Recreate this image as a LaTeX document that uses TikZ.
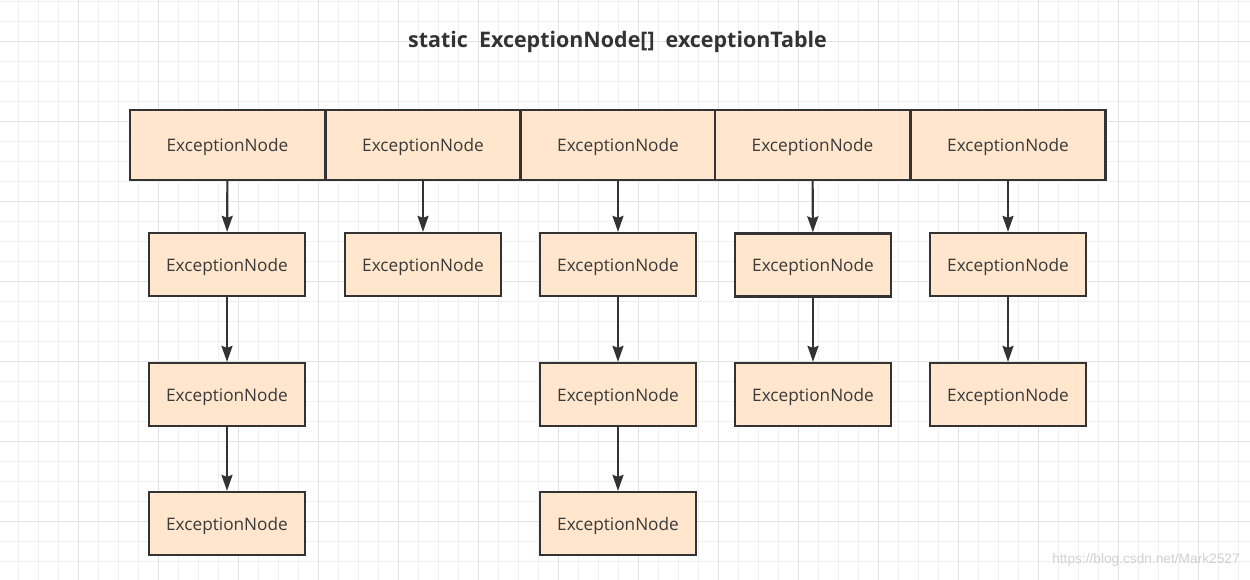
\documentclass[tikz,border=0pt]{standalone}
\usepackage{fontspec}
\setmainfont{Open Sans}
\newfontfamily\wmfont{Liberation Sans}
\usetikzlibrary{arrows.meta}

\definecolor{boxfill}{HTML}{FFE6CC}
\definecolor{boxline}{HTML}{333333}
\definecolor{boxtext}{HTML}{3A3A3A}
\definecolor{minorgrid}{HTML}{F0F0F0}
\definecolor{majorgrid}{HTML}{E2E2E2}

\begin{document}
\begin{tikzpicture}[x=0.02cm,y=-0.02cm,
    entry/.style={rectangle, draw=boxline, line width=1.3pt, fill=boxfill,
        text=boxtext, font=\fontsize{9.8}{11}\selectfont,
        text height=1em, text depth=0.24em,
        minimum width=3.9cm, minimum height=1.4cm, inner sep=0pt},
    chain/.style={entry, minimum width=3.12cm, minimum height=1.26cm},
    link/.style={draw=boxline, line width=1.2pt,
        -{Stealth[length=0.32cm,width=0.22cm,inset=0.04cm]}}]
                        % Background and grid
                        \fill[white] (0,0) rectangle (1250,580);
                        \useasboundingbox (0,0) rectangle (1250,580);
                        \foreach \x in {18,38,...,1238}
                            \draw[minorgrid, line width=0.5pt] (\x,0) -- (\x,580);
                        \foreach \y in {1.7,21.7,...,581}
                            \draw[minorgrid, line width=0.5pt] (0,\y) -- (1250,\y);
                        \foreach \x in {78,158,...,1238}
                            \draw[majorgrid, line width=0.5pt] (\x,0) -- (\x,580);
                        \foreach \y in {41.7,121.7,...,581}
                            \draw[majorgrid, line width=0.5pt] (0,\y) -- (1250,\y);

                        % Title
                        \node[text=boxline, font=\bfseries\fontsize{12.2}{14}\selectfont] (title) at (617.5,42)
                            {static\ \ ExceptionNode[]\ \ exceptionTable};

                        % Nodes
                        \node[entry] (t1) at (227.5,145) {ExceptionNode};
                        \node[entry] (t2) at (423,145) {ExceptionNode};
                        \node[entry] (t3) at (618,145) {ExceptionNode};
                        \node[entry] (t4) at (812.5,145) {ExceptionNode};
                        \node[entry] (t5) at (1008,145) {ExceptionNode};

                        \node[chain] (c1a) at (227,264.5) {ExceptionNode};
                        \node[chain] (c1b) at (227,394.5) {ExceptionNode};
                        \node[chain] (c1c) at (227,523.5) {ExceptionNode};
                        \node[chain] (c2a) at (423,264.5) {ExceptionNode};
                        \node[chain] (c3a) at (618,264.5) {ExceptionNode};
                        \node[chain] (c3b) at (618,394.5) {ExceptionNode};
                        \node[chain] (c3c) at (618,523.5) {ExceptionNode};
                        \node[chain] (c4a) at (813,265) {ExceptionNode};
                        \node[chain] (c4b) at (813,394.5) {ExceptionNode};
                        \node[chain] (c5a) at (1008,264.5) {ExceptionNode};
                        \node[chain] (c5b) at (1008,394.5) {ExceptionNode};

                        % Edges
                        \draw[link] (t1) -- (c1a);
                        \draw[link] (c1a) -- (c1b);
                        \draw[link] (c1b) -- (c1c);

                        \draw[link] (t2) -- (c2a);

                        \draw[link] (t3) -- (c3a);
                        \draw[link] (c3a) -- (c3b);
                        \draw[link] (c3b) -- (c3c);

                        \draw[link] (t4) -- (c4a);
                        \draw[link] (c4a) -- (c4b);

                        \draw[link] (t5) -- (c5a);
                        \draw[link] (c5a) -- (c5b);

                        % Watermark
                        \node[anchor=east, text=black!18, font=\wmfont\fontsize{7.8}{9}\selectfont, inner sep=0pt] (mark) at (1240,560)
                            {https://blog.csdn.net/Mark2527};
                    \end{tikzpicture}
\end{document}
